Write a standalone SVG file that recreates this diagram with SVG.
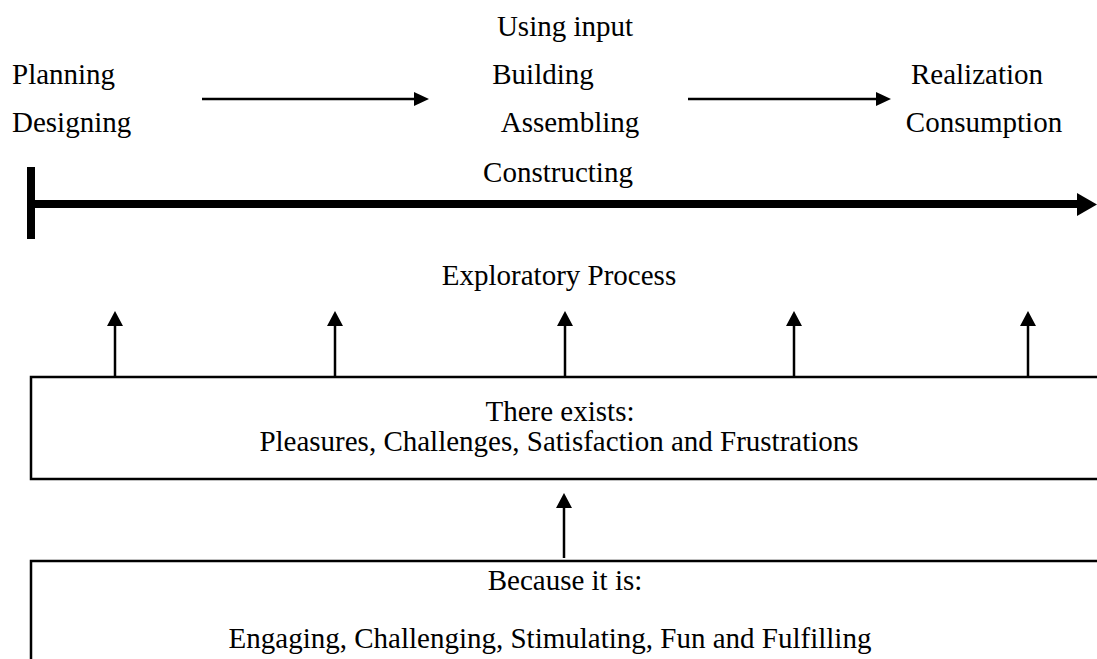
<svg xmlns="http://www.w3.org/2000/svg" width="1097" height="659" viewBox="0 0 1097 659">
<style>
text{font-family:"Liberation Serif","Times New Roman",serif;font-size:29px;fill:#000}
.c{text-anchor:middle}
.box{fill:#fff;stroke:#000;stroke-width:2.5}
.ln{stroke:#000;stroke-width:2.5;fill:none}
.hd{fill:#000}
</style>
<rect width="1097" height="659" fill="#fff"/>
<g id="timeline">
<rect x="27" y="167" width="8" height="72" fill="#000"/>
<line x1="35" y1="204" x2="1079" y2="204" stroke="#000" stroke-width="8"/>
<polygon class="hd" points="1077,193 1097,204.5 1077,216"/>
</g>
<g id="stage-plan">
<text x="12" y="84">Planning</text>
<text x="12" y="132">Designing</text>
</g>
<g id="stage-build">
<text class="c" x="565" y="36">Using input</text>
<text class="c" x="543" y="84">Building</text>
<text class="c" x="570" y="132">Assembling</text>
<text class="c" x="558" y="182">Constructing</text>
</g>
<g id="stage-real">
<text class="c" x="977" y="84">Realization</text>
<text class="c" x="984" y="132">Consumption</text>
</g>
<g id="process-label">
<text class="c" x="559" y="285">Exploratory Process</text>
</g>
<g id="box-exists">
<rect class="box" x="31" y="377" width="1100" height="102"/>
<text class="c" x="560" y="421">There exists:</text>
<text class="c" x="559" y="451">Pleasures, Challenges, Satisfaction and Frustrations</text>
</g>
<g id="box-because">
<rect class="box" x="31" y="561" width="1100" height="200"/>
<text class="c" x="565" y="590">Because it is:</text>
<text class="c" x="550" y="648">Engaging, Challenging, Stimulating, Fun and Fulfilling</text>
</g>
<g id="connectors">
<line class="ln" x1="202" y1="99" x2="415" y2="99"/>
<polygon class="hd" points="414,92 429,99 414,106"/>
<line class="ln" x1="688" y1="99" x2="877" y2="99"/>
<polygon class="hd" points="876,92 891,99 876,106"/>
<line class="ln" x1="115" y1="377" x2="115" y2="325"/>
<polygon class="hd" points="107,326 115,311 123,326"/>
<line class="ln" x1="335" y1="377" x2="335" y2="325"/>
<polygon class="hd" points="327,326 335,311 343,326"/>
<line class="ln" x1="565" y1="377" x2="565" y2="325"/>
<polygon class="hd" points="557,326 565,311 573,326"/>
<line class="ln" x1="794" y1="377" x2="794" y2="325"/>
<polygon class="hd" points="786,326 794,311 802,326"/>
<line class="ln" x1="1028" y1="377" x2="1028" y2="325"/>
<polygon class="hd" points="1020,326 1028,311 1036,326"/>
<line class="ln" x1="564" y1="558" x2="564" y2="507"/>
<polygon class="hd" points="556,508 564,493 572,508"/>
</g>
</svg>
